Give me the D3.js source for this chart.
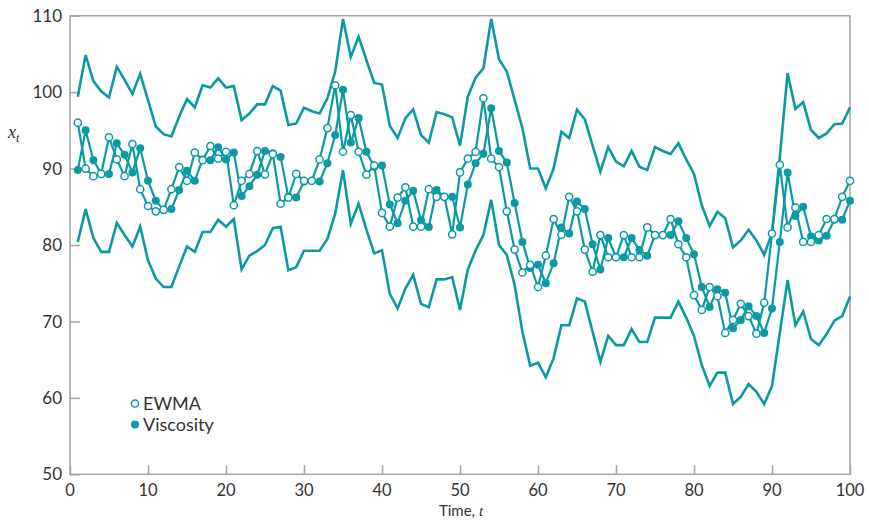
<!DOCTYPE html>
<html><head><meta charset="utf-8">
<script src="https://cdn.jsdelivr.net/npm/d3@7"></script>
<style>body{margin:0;background:#fff}svg{display:block}</style>
</head><body><svg id="chart" width="869" height="520"></svg>
<script>
const time = d3.range(1, 101);
const viscosity = [89.8,95.0,91.1,89.3,89.3,93.3,91.8,89.5,92.65,88.4,
85.8,84.6,84.7,87.2,89.7,88.4,91.2,91.1,92.8,91.2,
92.1,86.4,87.7,89.2,92.3,92.0,91.5,86.3,86.2,88.3,
88.4,88.3,90.7,94.4,100.3,93.4,96.6,92.2,90.25,90.4,
85.3,82.85,85.8,87.1,83.25,82.35,87.2,86.3,86.3,82.3,
87.9,90.7,91.95,97.9,92.3,90.8,85.5,80.4,77.0,77.4,
75.0,77.6,82.3,81.5,85.7,84.7,80.1,76.8,80.9,78.4,
78.4,80.9,79.35,78.6,81.3,81.3,81.3,83.1,80.9,78.8,
74.5,71.9,74.2,73.75,69.1,70.2,72.0,70.7,68.5,71.7,
80.4,89.5,83.8,85.0,81.1,80.6,81.2,83.3,83.3,85.8];
const ewma = [96.0,90.0,89.0,89.3,94.1,91.2,89.0,93.2,87.3,85.1,
84.4,84.6,87.3,90.2,88.4,92.1,91.1,92.95,91.3,92.2,
85.2,88.4,89.3,92.3,89.25,91.9,85.4,86.2,89.3,88.4,
88.4,91.2,95.3,100.9,92.2,97.0,92.2,89.2,90.4,84.2,
82.4,86.2,87.55,82.4,82.4,87.3,86.3,86.3,81.4,89.5,
91.3,92.2,99.2,91.3,90.2,84.4,79.4,76.4,77.4,74.5,
78.6,83.4,81.35,86.3,84.4,79.4,76.5,81.3,78.4,78.4,
81.3,78.4,78.4,82.3,81.3,81.3,83.4,80.1,78.4,73.45,
71.5,74.5,73.3,68.5,70.2,72.3,70.7,68.4,72.45,81.5,
90.5,82.3,84.9,80.4,80.4,81.3,83.4,83.4,86.3,88.4];
const upper = [99.4,104.85,101.45,100.1,99.3,103.3,101.6,99.75,102.4,98.97,
95.5,94.5,94.2,96.8,99.1,98.0,100.9,100.6,101.8,100.6,
100.8,96.35,97.2,98.4,98.4,100.8,100.2,95.7,95.9,97.96,
97.5,97.2,99.2,102.7,109.57,104.6,107.25,104.2,101.2,101.0,
95.6,94.0,96.6,97.75,94.4,93.4,97.4,97.1,96.7,93.0,
99.4,101.9,103.1,109.57,104.3,102.7,99.0,95.3,90.0,90.0,
87.4,90.0,94.8,94.0,97.7,96.45,93.0,89.6,92.8,90.9,
90.3,92.3,90.25,89.8,92.8,92.3,91.9,93.3,91.2,89.3,
85.2,82.5,84.35,83.5,79.7,80.6,82.0,80.6,78.7,81.6,
91.5,102.5,97.8,98.7,95.05,94.0,94.6,95.8,95.9,98.0];
const lower = [80.4,84.7,80.9,79.1,79.1,82.9,81.3,79.8,82.4,78.0,
75.6,74.5,74.5,77.2,79.8,79.1,81.7,81.7,83.3,82.4,
83.4,76.8,78.6,79.2,80.0,82.2,82.4,76.7,77.1,79.25,
79.25,79.25,80.8,84.1,89.8,82.8,85.4,82.0,78.9,79.3,
73.6,71.7,74.3,76.1,72.3,71.85,75.5,75.5,75.8,71.5,
76.8,79.3,81.3,85.9,80.0,78.7,74.8,68.65,64.2,64.6,
62.7,65.2,69.5,69.5,73.0,72.6,68.65,64.7,68.1,66.9,
66.9,69.0,67.3,67.3,70.5,70.5,70.5,72.6,70.5,68.1,
64.3,61.55,63.3,63.3,59.2,60.15,61.8,60.8,59.2,61.55,
68.5,75.4,69.5,71.3,67.7,66.9,68.35,70.1,70.7,73.25];
const xTicks = [0,10,20,30,40,50,60,70,80,90,100];
const yTicks = [50,60,70,80,90,100,110];
const legendLabels = ["EWMA","Viscosity"];

const teal = "#0b9aa5";
const axisGray = "#a8a8a8";
const textColor = "#333";
const font = "Lato, 'Open Sans', sans-serif";

const svg = d3.select("#chart");
const x = d3.scaleLinear().domain([0,100]).range([70,850]);
const y = d3.scaleLinear().domain([50,110]).range([474.3,15.7]);

// frame
svg.append("rect").attr("x",x(0)).attr("y",y(110)).attr("width",x(100)-x(0)).attr("height",y(50)-y(110))
  .attr("fill","none").attr("stroke",axisGray).attr("stroke-width",1.6);

// y axis ticks (inward)
const yAxis = d3.axisRight(y).tickValues(yTicks).tickSize(10).tickFormat("");
svg.append("g").attr("transform",`translate(${x(0)},0)`).call(yAxis)
  .call(g=>{g.select(".domain").remove(); g.selectAll("line").attr("stroke",axisGray).attr("stroke-width",1.6);});
svg.append("g").selectAll("text").data(yTicks).join("text")
  .attr("x",x(0)-8).attr("y",d=>y(d)).attr("dy","0.36em").attr("text-anchor","end")
  .attr("font-family",font).attr("font-size",17).attr("fill",textColor).text(d=>d);

// x axis ticks (inward)
const xAxis = d3.axisTop(x).tickValues(xTicks).tickSize(9).tickFormat("");
svg.append("g").attr("transform",`translate(0,${y(50)})`).call(xAxis)
  .call(g=>{g.select(".domain").remove(); g.selectAll("line").attr("stroke",axisGray).attr("stroke-width",1.6);});
svg.append("g").selectAll("text").data(xTicks).join("text")
  .attr("x",d=>x(d)).attr("y",y(50)+22).attr("text-anchor","middle")
  .attr("font-family",font).attr("font-size",16.5).attr("fill",textColor).text(d=>d);

// axis titles
const yt = svg.append("text").attr("x",8).attr("y",138).attr("font-family","'Liberation Serif', 'DejaVu Serif', serif")
  .attr("font-style","italic").attr("font-size",18).attr("fill",textColor);
yt.append("tspan").text("x");
yt.append("tspan").attr("font-size",12).attr("dy",4).text("t");
const xt = svg.append("text").attr("x",461).attr("y",516).attr("text-anchor","middle")
  .attr("font-family",font).attr("font-size",15).attr("fill",textColor);
xt.append("tspan").text("Time, ");
xt.append("tspan").attr("font-style","italic").attr("font-family","'Liberation Serif', serif").text("t");

const line = d3.line().x((d,i)=>x(time[i])).y(d=>y(d));
const g = svg.append("g");
[upper, lower].forEach(s=>{
  g.append("path").attr("d",line(s)).attr("fill","none").attr("stroke",teal)
   .attr("stroke-width",2.6).attr("stroke-linejoin","miter");
});
g.append("path").attr("d",line(viscosity)).attr("fill","none").attr("stroke",teal).attr("stroke-width",2.2);
g.append("path").attr("d",line(ewma)).attr("fill","none").attr("stroke",teal).attr("stroke-width",2.2);
g.append("g").selectAll("circle").data(viscosity).join("circle")
  .attr("cx",(d,i)=>x(time[i])).attr("cy",d=>y(d)).attr("r",4).attr("fill",teal);
g.append("g").selectAll("circle").data(ewma).join("circle")
  .attr("cx",(d,i)=>x(time[i])).attr("cy",d=>y(d)).attr("r",3.6).attr("fill","#fff")
  .attr("stroke",teal).attr("stroke-width",1.5);

// legend
const lg = svg.append("g");
lg.append("circle").attr("cx",135).attr("cy",403.5).attr("r",3.6).attr("fill","#fff").attr("stroke",teal).attr("stroke-width",1.5);
lg.append("circle").attr("cx",135).attr("cy",424.5).attr("r",4).attr("fill",teal);
lg.selectAll("text").data(legendLabels).join("text")
  .attr("x",143).attr("y",(d,i)=>410+i*21).attr("font-family",font).attr("font-size",18)
  .attr("fill",textColor).text(d=>d);
</script></body></html>
